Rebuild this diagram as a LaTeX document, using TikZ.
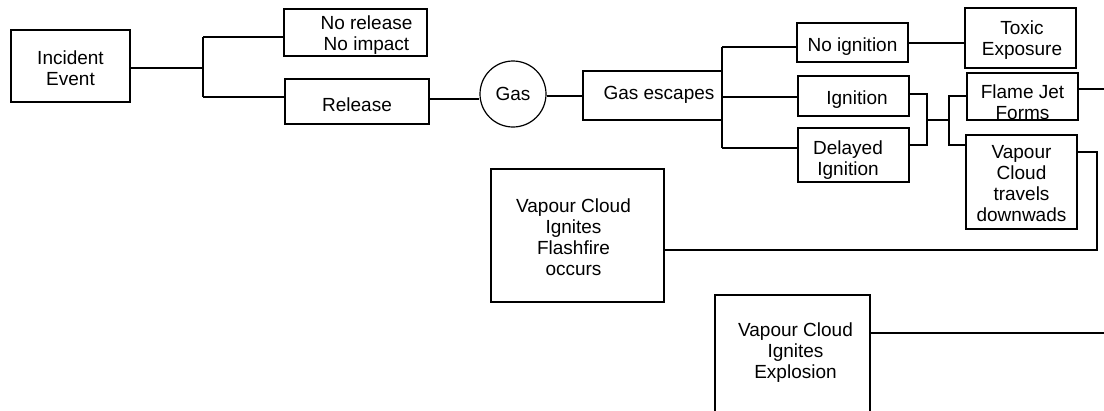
\documentclass[tikz,border=0pt]{standalone}
\usepackage{fontspec}
\setmainfont{Liberation Sans}
\begin{document}
\begin{tikzpicture}[x=1pt,y=-1pt,
  box/.style={draw,line width=1.2pt,inner sep=0pt},
  lbl/.style={inner sep=0pt,align=center,font=\fontsize{19}{21}\selectfont},
  ln/.style={line width=1.2pt}]
\useasboundingbox (0,0) rectangle (1104,410);
\clip (0,0) rectangle (1104,410);

% boxes
\node[box,minimum width=119pt,minimum height=72pt,
  label={[lbl,yshift=-2pt]center:{Incident\\Event}}] (inc) at (70.5,66) {};
\node[box,minimum width=143pt,minimum height=47pt,
  label={[lbl,yshift=-3pt,xshift=11pt]center:{No release\\No impact}}] (nr) at (355.5,32.5) {};
\node[box,minimum width=144pt,minimum height=45pt,
  label={[lbl,yshift=-3pt]center:{Release}}] (rel) at (357,101.5) {};
\node[box,circle,minimum size=66pt,
  label={[lbl]center:{Gas}}] (gas) at (513,94) {};
\node[box,minimum width=139pt,minimum height=49pt,
  label={[lbl,yshift=1pt,xshift=6.5pt]center:{Gas escapes}}] (ge) at (652.5,95.5) {};
\node[box,minimum width=111pt,minimum height=39pt,
  label={[lbl,yshift=-4pt]center:{No ignition}}] (ni) at (852.5,42.5) {};
\node[box,minimum width=111pt,minimum height=40pt,
  label={[lbl,yshift=-4pt,xshift=3.5pt]center:{Ignition}}] (ig) at (853.5,96) {};
\node[box,minimum width=111pt,minimum height=54pt,
  label={[lbl,yshift=-5pt,xshift=-5.5pt]center:{Delayed\\Ignition}}] (di) at (853.5,155) {};
\node[box,minimum width=111pt,minimum height=60pt,
  label={[lbl,yshift=-2pt,xshift=1.5pt]center:{Toxic\\Exposure}}] (tox) at (1020.5,38) {};
\node[box,minimum width=111pt,minimum height=47pt,
  label={[lbl,yshift=-6pt]center:{Flame Jet\\Forms}}] (fj) at (1022.5,96.5) {};
\node[box,minimum width=111pt,minimum height=94pt,
  label={[lbl,yshift=-2pt]center:{Vapour\\Cloud\\travels\\downwads}}] (vc) at (1021.5,182) {};
\node[box,minimum width=173pt,minimum height=133pt,
  label={[lbl,yshift=-2pt,xshift=-4pt]center:{Vapour Cloud\\Ignites\\Flashfire\\occurs}}] (ff) at (577.5,235.5) {};
\node[box,minimum width=155pt,minimum height=117pt,
  label={[lbl,yshift=0.5pt,xshift=3pt]center:{Vapour Cloud\\Ignites\\Explosion}}] (ex) at (792.5,353.5) {};

% junction coordinates
\coordinate (j1) at (203,68);
\coordinate (j1t) at (203,37);
\coordinate (j1b) at (203,97);
\coordinate (rg) at (0,99);
\coordinate (j2t) at (722,47);
\coordinate (j2m) at (722,97);
\coordinate (j2b) at (722,148);
\coordinate (k1t) at (927,94);
\coordinate (k1b) at (927,145);
\coordinate (k1m) at (927,120);
\coordinate (k2m) at (949,120);
\coordinate (k2t) at (949,96);
\coordinate (k2b) at (949,145);
\coordinate (vcr) at (1097,152);
\coordinate (vcd) at (1097,250);
\coordinate (endF) at (1104,89);
\coordinate (endE) at (1104,333);

% connectors
\draw[ln] (inc.east |- j1) -- (j1);
\draw[ln] (j1t) -- (j1b);
\draw[ln] (j1t) -- (nr.west |- j1t);
\draw[ln] (j1b) -- (rel.west |- j1b);
\draw[ln] (rel.east |- rg) -- (gas.west |- rg);
\draw[ln] (gas.east |- 0,96) -- (ge.west |- 0,96);
\draw[ln] (j2t) -- (j2b);
\draw[ln] (j2t) -- (ni.west |- j2t);
\draw[ln] (j2m) -- (ig.west |- j2m);
\draw[ln] (j2b) -- (di.west |- j2b);
\draw[ln] (ni.east |- 0,43) -- (tox.west |- 0,43);
\draw[ln] (ig.east |- k1t) -- (k1t) -- (k1b) -- (di.east |- k1b);
\draw[ln] (k1m) -- (k2m);
\draw[ln] (fj.west |- k2t) -- (k2t) -- (k2b) -- (vc.west |- k2b);
\draw[ln] (fj.east |- endF) -- (endF);
\draw[ln] (vc.east |- vcr) -- (vcr) -- (vcd) -- (ff.east |- vcd);
\draw[ln] (ex.east |- endE) -- (endE);
\end{tikzpicture}
\end{document}
